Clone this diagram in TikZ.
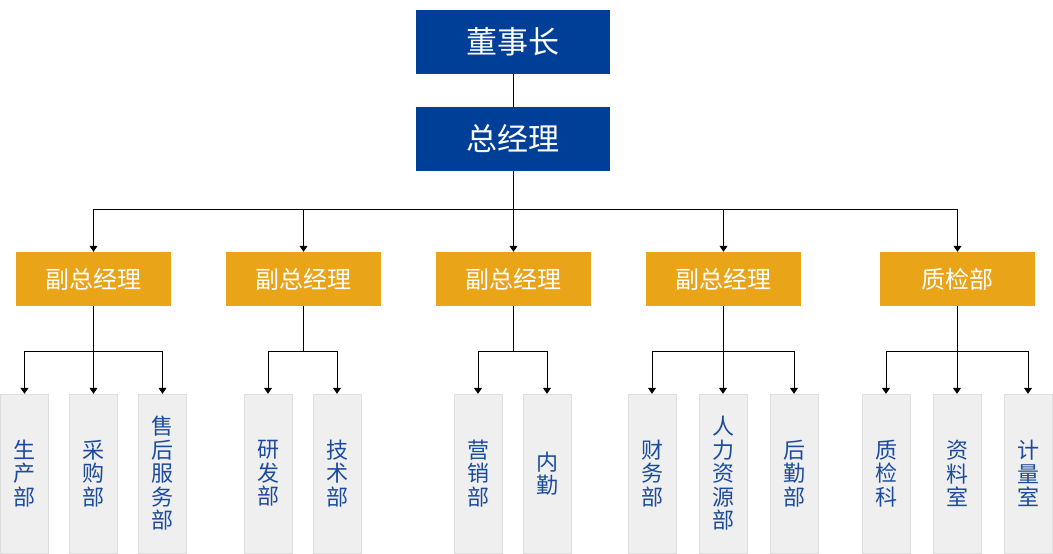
\documentclass[tikz,border=0pt]{standalone}
\usepackage{fontspec}
\setmainfont{Noto Sans CJK SC}
\usetikzlibrary{arrows.meta, positioning}

\definecolor{topblue}{HTML}{003F98}
\definecolor{vpyellow}{HTML}{E9A418}
\definecolor{deptgray}{HTML}{EFEFEF}
\definecolor{deptline}{HTML}{DEDEDE}
\definecolor{depttext}{HTML}{1C4B9E}

\begin{document}
\begin{tikzpicture}[
    x=1pt, y=-1pt,
    >={Triangle[length=6pt, width=8pt]},
    head/.style={rectangle, fill=topblue, text=white, minimum width=194pt, minimum height=64pt, inner sep=0pt, font=\fontsize{31}{34}\selectfont},
    vp/.style={rectangle, fill=vpyellow, text=white, minimum width=155pt, minimum height=54pt, inner sep=0pt, font=\fontsize{24}{27}\selectfont},
    dept/.style={rectangle, draw=deptline, fill=deptgray, text=depttext, minimum width=48pt, minimum height=159pt, text width=24pt, align=center, inner sep=0pt, font=\fontsize{22}{23.5}\selectfont},
    link/.style={draw=black, line width=1pt}
]
\useasboundingbox (0,0) rectangle (1053,554);

% Nodes
\node[head] (chair) at (513,42) {董事长};
\node[head] (gm) at (513,139) {总经理};

\node[vp] (vp1) at (93.5,279) {副总经理};
\node[vp] (vp2) at (303.5,279) {副总经理};
\node[vp] (vp3) at (513.5,279) {副总经理};
\node[vp] (vp4) at (723.5,279) {副总经理};
\node[vp] (qc) at (957.5,279) {质检部};

\node[dept] (prod) at (24.5,473.5) {生\\产\\部};
\node[dept] (purch) at (93.5,473.5) {采\\购\\部};
\node[dept] (service) at (162.5,473.5) {售\\后\\服\\务\\部};
\node[dept] (rnd) at (268,473.5) {研\\发\\部};
\node[dept] (tech) at (337,473.5) {技\\术\\部};
\node[dept] (sales) at (478,473.5) {营\\销\\部};
\node[dept] (office) at (547,473.5) {内\\勤};
\node[dept] (fin) at (652,473.5) {财\\务\\部};
\node[dept] (hr) at (723,473.5) {人\\力\\资\\源\\部};
\node[dept] (logis) at (794,473.5) {后\\勤\\部};
\node[dept] (qcsec) at (886,473.5) {质\\检\\科};
\node[dept] (docs) at (957,473.5) {资\\料\\室};
\node[dept] (metro) at (1028,473.5) {计\\量\\室};

% Links
\draw[link] (chair) -- (gm);
\foreach \v in {vp1, vp2, vp3, vp4, qc}
    \draw[link, ->] (gm.south) -- ++(0,38) -| (\v.north);

\foreach \d in {prod, purch, service}
    \draw[link, ->] (vp1.south) -- ++(0,45) -| (\d.north);
\foreach \d in {rnd, tech}
    \draw[link, ->] (vp2.south) -- ++(0,45) -| (\d.north);
\foreach \d in {sales, office}
    \draw[link, ->] (vp3.south) -- ++(0,45) -| (\d.north);
\foreach \d in {fin, hr, logis}
    \draw[link, ->] (vp4.south) -- ++(0,45) -| (\d.north);
\foreach \d in {qcsec, docs, metro}
    \draw[link, ->] (qc.south) -- ++(0,45) -| (\d.north);

\end{tikzpicture}
\end{document}
